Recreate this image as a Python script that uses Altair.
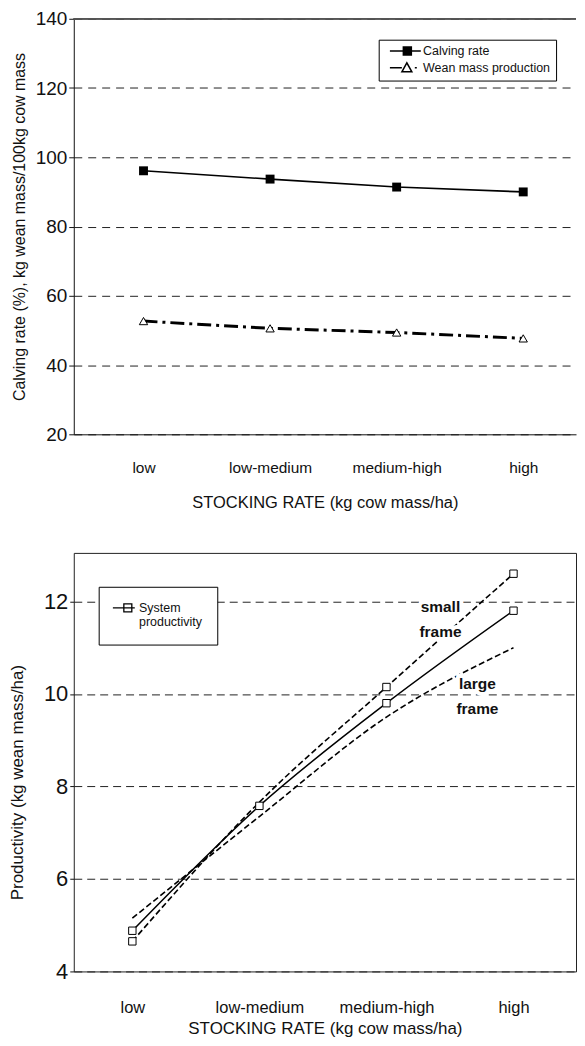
import json
import altair as alt
import pandas as pd

# ---------------- data ----------------
stock_levels = ["low", "low-medium", "medium-high", "high"]
stock_index = [0, 1, 2, 3]

calving_rate = [96.1, 93.7, 91.4, 90.0]
wean_mass = [52.7, 50.6, 49.4, 47.7]

system_prod = [4.88, 7.58, 9.8, 11.8]
small_frame = [4.65, 7.66, 10.15, 12.6]
large_frame = [5.15, 7.35, 9.5, 11.0]
small_frame_marked = [True, False, True, True]

top_y_ticks = [20, 40, 60, 80, 100, 120, 140]
bottom_y_ticks = [4, 6, 8, 10, 12]

annot_text = ["small", "frame", "large", "frame"]
annot_x = [2.425, 2.425, 2.716, 2.716]
annot_y = [11.87, 11.33, 10.21, 9.67]

# ---------------- styling ----------------
FONT = "Liberation Sans, Arial, sans-serif"
INK = "#111111"
label_expr = json.dumps(stock_levels) + "[datum.value]"

# legend symbol paths (unit = sqrt(symbolSize)/2 = 5 px)
PATH_CALVING = ("M0,0H6.2 M2.7,-0.8H4.3V0.8H2.7Z M2.7,-0.5H4.3 "
                "M2.7,-0.2H4.3 M2.7,0.2H4.3 M2.7,0.5H4.3")
PATH_WEAN = "M0,0H2.4 M2.4,0.8L3.4,-1.0L4.4,0.8Z M5.0,0H5.4"
PATH_SYSTEM = "M-1.4,0H3.0 M0.8,-0.8H2.4V0.8H0.8Z"

# ---------------- top chart ----------------
top_names = ["Calving rate", "Wean mass production"]
top_df = pd.DataFrame({
    "idx": stock_index * 2,
    "value": calving_rate + wean_mass,
    "series": [top_names[0]] * 4 + [top_names[1]] * 4,
})

x_top = alt.X(
    "idx:Q",
    scale=alt.Scale(domain=[-0.551, 3.417], nice=False, zero=False),
    axis=alt.Axis(values=stock_index, labelExpr=label_expr,
                  title="STOCKING RATE (kg cow mass/ha)",
                  grid=False, ticks=False, tickSize=0,
                  domain=True, domainColor=INK, domainWidth=1,
                  labelFlush=False, labelPadding=26, titlePadding=19,
                  labelFont=FONT, labelFontSize=15.5, labelColor=INK,
                  titleFont=FONT, titleFontSize=16.5, titleFontWeight="normal",
                  titleColor=INK),
)
y_top = alt.Y(
    "value:Q",
    scale=alt.Scale(domain=[20, 140], nice=False, zero=False),
    axis=alt.Axis(values=top_y_ticks, title="Calving rate (%), kg wean mass/100kg cow mass",
                  grid=True, gridDash=[8, 6], gridColor="#222222", gridWidth=1,
                  domain=True, domainColor=INK, domainWidth=1,
                  ticks=True, tickSize=5, tickColor=INK,
                  labelPadding=2, titlePadding=8,
                  labelFont=FONT, labelFontSize=19, labelColor=INK,
                  titleFont=FONT, titleFontSize=16, titleFontWeight="normal",
                  titleColor=INK),
)

top_base = alt.Chart(top_df).encode(x=x_top, y=y_top)
calv = top_base.transform_filter(alt.datum.series == top_names[0])
wean = top_base.transform_filter(alt.datum.series == top_names[1])

top_border = alt.Chart(top_df).mark_rule(color="#555555", strokeWidth=1).encode(
    y=alt.datum(top_y_ticks[-1]))
calv_line = calv.mark_line(color="black", strokeWidth=1.6)
calv_pts = calv.mark_point(shape="square", filled=True, color="black", size=80, opacity=1)
wean_line = wean.mark_line(color="black", strokeWidth=3, strokeDash=[14, 5, 3, 5])
wean_pts = wean.mark_point(shape="triangle-up", filled=True, fill="white", stroke="black",
                           strokeWidth=1, size=70, opacity=1)

top_legend = top_base.mark_point(opacity=0).encode(
    shape=alt.Shape("series:N",
                    scale=alt.Scale(domain=top_names, range=[PATH_CALVING, PATH_WEAN]),
                    legend=alt.Legend(title=None, orient="none", legendX=306, legendY=21,
                                      symbolSize=100, symbolStrokeColor="black",
                                      symbolFillColor="white",
                                      symbolStrokeWidth=1.5, symbolOpacity=1,
                                      labelFont=FONT, labelFontSize=12.5, labelColor=INK,
                                      labelOffset=27, padding=5, rowPadding=1,
                                      strokeColor="black", fillColor="white")),
)

top_chart = alt.layer(top_border, calv_line, wean_line, calv_pts, wean_pts,
                      top_legend).properties(width=504, height=417)

# ---------------- bottom chart ----------------
bot_names = ["System productivity", "small frame", "large frame"]
bot_df = pd.DataFrame({
    "idx": stock_index * 3,
    "value": system_prod + small_frame + large_frame,
    "series": [bot_names[0]] * 4 + [bot_names[1]] * 4 + [bot_names[2]] * 4,
    "marked": [True] * 4 + small_frame_marked + [False] * 4,
})
annot_df = pd.DataFrame({"idx": annot_x, "value": annot_y, "text": annot_text})

x_bot = alt.X(
    "idx:Q",
    scale=alt.Scale(domain=[-0.461, 3.492], nice=False, zero=False),
    axis=alt.Axis(values=stock_index, labelExpr=label_expr,
                  title="STOCKING RATE (kg cow mass/ha)",
                  grid=False, ticks=False, tickSize=0, domain=False,
                  labelFlush=False, labelPadding=28, titlePadding=5,
                  labelFont=FONT, labelFontSize=16.5, labelColor=INK,
                  titleFont=FONT, titleFontSize=17, titleFontWeight="normal",
                  titleColor=INK),
)
y_bot = alt.Y(
    "value:Q",
    scale=alt.Scale(domain=[4, 13.05], nice=False, zero=False),
    axis=alt.Axis(values=bottom_y_ticks, title="Productivity (kg wean mass/ha)",
                  grid=True, gridDash=[8, 5], gridColor="#222222", gridWidth=1,
                  domain=False, ticks=True, tickSize=4, tickColor=INK,
                  labelPadding=2, titlePadding=17, titleY=230,
                  labelFont=FONT, labelFontSize=22, labelColor=INK,
                  titleFont=FONT, titleFontSize=17, titleFontWeight="normal",
                  titleColor=INK),
)

bot_base = alt.Chart(bot_df).encode(x=x_bot, y=y_bot)
sys_line = bot_base.transform_filter(alt.datum.series == bot_names[0]).mark_line(
    color="black", strokeWidth=1.5, interpolate="monotone")
small_line = bot_base.transform_filter(alt.datum.series == bot_names[1]).mark_line(
    color="black", strokeWidth=1.6, strokeDash=[6, 3], interpolate="monotone")
large_line = bot_base.transform_filter(alt.datum.series == bot_names[2]).mark_line(
    color="black", strokeWidth=1.6, strokeDash=[6, 3], interpolate="monotone")

ann_base = alt.Chart(annot_df).encode(
    x=alt.X("idx:Q"), y=alt.Y("value:Q"), text="text:N")
ann_halo = ann_base.mark_text(font=FONT, fontSize=15.5, fontWeight="bold", color="white",
                              stroke="white", strokeWidth=8, baseline="middle", align="center")
ann_text = ann_base.mark_text(font=FONT, fontSize=15.5, fontWeight="bold", color=INK,
                              baseline="middle", align="center")

squares = bot_base.transform_filter(alt.datum.marked).mark_point(
    shape="square", filled=True, fill="white", stroke="black", strokeWidth=1,
    size=55, opacity=1)

bot_legend = bot_base.transform_filter(alt.datum.series == bot_names[0]).mark_point(
    opacity=0).encode(
    shape=alt.Shape("series:N",
                    scale=alt.Scale(domain=[bot_names[0]], range=[PATH_SYSTEM]),
                    legend=alt.Legend(title=None, orient="none", legendX=25, legendY=34,
                                      symbolSize=100, symbolStrokeColor="black",
                                      symbolFillColor="white",
                                      symbolStrokeWidth=1.3, symbolOpacity=1,
                                      labelExpr="['System', 'productivity']",
                                      labelFont=FONT, labelFontSize=12.5, labelColor=INK,
                                      labelOffset=13, padding=15,
                                      strokeColor="black", fillColor="white")),
)

bottom_chart = alt.layer(sys_line, small_line, large_line, ann_halo, ann_text,
                         squares, bot_legend).properties(
    width=504, height=420,
    view=alt.ViewBackground(stroke="#222222", strokeWidth=1))

chart = alt.vconcat(top_chart, bottom_chart, spacing=41).properties(
    padding={"left": 0, "top": 0, "right": 0, "bottom": 0},
    background="white",
).resolve_scale(shape="independent").resolve_legend(shape="independent").configure_view(
    stroke=None)

chart.save("out.html", embed_options={"renderer": "svg", "actions": False})
